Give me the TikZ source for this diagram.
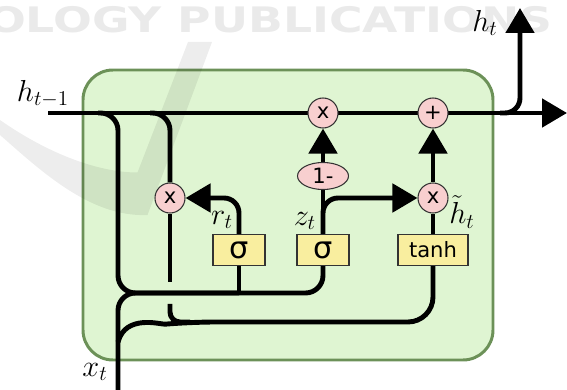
\documentclass[tikz,border=0pt]{standalone}
\usepackage{fontspec}
\usepackage{xcolor}
\usepackage{tikz}
\usetikzlibrary{positioning,arrows.meta,backgrounds,calc,shapes.geometric}
\newfontfamily\opfont{DejaVu Sans}
\definecolor{gruGreen}{HTML}{DFF5D2}
\definecolor{gruGreenEdge}{HTML}{6C9158}
\definecolor{gruPink}{HTML}{F8CFCF}
\definecolor{gruYellow}{HTML}{F9EE9F}
\definecolor{gruMark}{HTML}{EAEAEA}
\pgfdeclarelayer{cell}
\pgfsetlayers{cell,background,main}

\begin{document}
\begin{tikzpicture}[
  font=\opfont,
  wire/.style={line width=2.8pt, draw=black},
  flow/.style={wire, -{Triangle[length=0.5cm, width=0.56cm]}},
  cellbox/.style={rounded corners=0.6cm, draw=gruGreenEdge, line width=1.7pt, fill=gruGreen,
                  minimum width=8.2cm, minimum height=5.8cm},
  op/.style={circle, draw=black!80, line width=0.6pt, fill=gruPink, minimum size=0.6cm,
             inner sep=0pt, font=\opfont\large},
  gate/.style={rectangle, draw=black!80, line width=0.6pt, fill=gruYellow, minimum height=0.62cm,
               inner sep=0pt, font=\opfont\large},
  lbl/.style={font=\LARGE},
]

\useasboundingbox (0,0) rectangle (11.34,-7.8);

% Cell and watermark
\begin{pgfonlayer}{cell}
  \node[cellbox] (cell) at (5.76,-4.3) {};
  \node[text=gruMark, font=\opfont\bfseries\fontsize{20}{20}\selectfont, xscale=1.3] (wm) at (5.4,-0.4) {OLOGY PUBLICATIONS};
  \fill[black, opacity=0.07] (0,-2.4) .. controls (1.0,-3.1) and (2.0,-3.45) .. (2.75,-3.45)
    -- (3.76,-0.84) -- (4.24,-0.84) -- (2.95,-4.3) .. controls (1.8,-4.35) and (0.8,-3.4) .. (0,-2.7) -- cycle;
\end{pgfonlayer}

% Pointwise operations
\node[op] (mx) at (6.46,-2.26) {x};
\node[op] (pl) at (8.66,-2.26) {+};
\node[op] (rx) at (3.4,-3.96) {x};
\node[op] (hx) at (8.66,-3.96) {x};
\node[op, ellipse, minimum width=1.02cm, minimum height=0.54cm] (om) at (6.46,-3.52) {1-};

% Gates
\node[gate, minimum width=1.04cm] (s1) at (4.78,-5.0) {\LARGE σ};
\node[gate, minimum width=1.04cm] (s2) at (6.46,-5.0) {\LARGE σ};
\node[gate, minimum width=1.4cm] (tn) at (8.66,-5.0) {tanh};

% State line and input
\coordinate (hin) at (0.96,-2.26);
\coordinate (hout) at (11.34,-2.26);
\coordinate (hb1) at (1.96,-2.26);
\coordinate (hb2) at (3.0,-2.26);
\coordinate (hb3) at (10.0,-2.26);
\coordinate (htop) at (10.4,-0.16);
\coordinate (xin) at (2.36,-7.8);
\coordinate (xb) at (2.36,-6.84);
\coordinate (cat) at (4.78,-5.86);
\coordinate (low) at (3.8,-6.44);

% Labels
\node[lbl] (lhp) at (0.86,-1.88) {$h_{t-1}$};
\node[lbl] (lh)  at (9.7,-0.46) {$h_t$};
\node[lbl] (lx)  at (1.9,-7.44) {$x_t$};
\node[lbl] (lr)  at (4.44,-4.4) {$r_t$};
\node[lbl] (lz)  at (6.1,-4.42) {$z_t$};
\node[lbl] (lht) at (9.24,-4.24) {$\tilde{h}_t$};

\begin{scope}[on background layer]
  % reset path, broken where it crosses
  \draw[wire] (rx.south) -- ([yshift=0.22cm]rx.south |- cat);
  \draw[wire, rounded corners=0.2cm] ([yshift=-0.22cm]rx.south |- cat) |- (low);
  % concatenation into the gates
  \draw[wire, rounded corners=0.35cm] (hb1) -| (xin |- cat) -| (s2.south);
  \draw[wire] (s1.south) -- (cat);
  \draw[wire, rounded corners=0.35cm] (xin) |- (cat);
  \draw[wire, rounded corners=0.5cm] (xb) to[out=75, in=185] (low) -| (tn.south);
  % state line
  \draw[flow] (hin) -- (hout);
  \draw[wire, rounded corners=0.35cm] (hb2) -| (rx.north);
  \draw[flow, rounded corners=0.3cm] (hb3) -| (htop);
  % gate outputs
  \draw[flow, rounded corners=0.3cm] (s1.north) |- (rx.east);
  \draw[wire] (s2.north) -- (om.south);
  \draw[flow] (om.north) -- (mx.south);
  \draw[flow, rounded corners=0.3cm] (s2.north) |- (hx.west);
  \draw[wire] (tn.north) -- (hx.south);
  \draw[flow] (hx.north) -- (pl.south);
\end{scope}

\end{tikzpicture}
\end{document}
